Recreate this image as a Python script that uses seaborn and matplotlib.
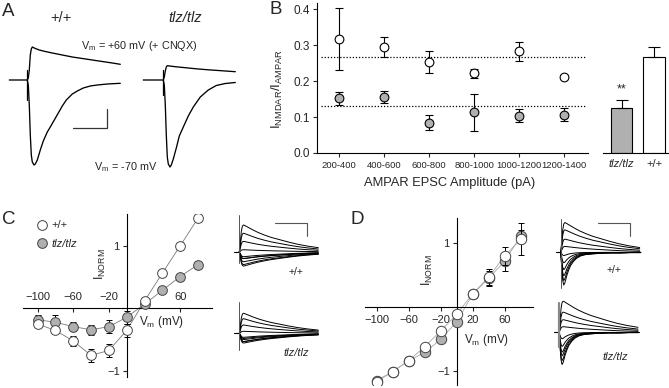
import numpy as np
import matplotlib
matplotlib.use('Agg')
import matplotlib.pyplot as plt
from matplotlib.lines import Line2D
import seaborn as sns

sns.set_style('ticks')
plt.rcParams['font.family'] = ['Liberation Sans', 'DejaVu Sans']
plt.rcParams['mathtext.default'] = 'regular'
plt.rcParams['axes.edgecolor'] = 'black'
plt.rcParams['axes.linewidth'] = 0.8

W, H = 669, 388
GRAY = '#b0b0b0'

# ---------------- panel B: NMDAR/AMPAR ratio vs AMPAR EPSC amplitude
amp_bins = ['200-400', '400-600', '600-800', '800-1000', '1000-1200', '1200-1400']
ratio_wt = [0.318, 0.295, 0.253, 0.222, 0.283, 0.212]
ratio_wt_err = [0.087, 0.028, 0.030, 0.012, 0.026, 0.004]
ratio_tlz = [0.153, 0.157, 0.084, 0.113, 0.104, 0.106]
ratio_tlz_err = [0.018, 0.017, 0.021, 0.051, 0.018, 0.018]
mean_ratio = [0.267, 0.130]
bar_groups = ['tlz/tlz', '+/+']
bar_means = [0.125, 0.267]
bar_err = [0.022, 0.028]

# ---------------- panels C/D: normalized I-V relations
vm = [-100, -80, -60, -40, -20, 0, 20, 40, 60, 80]
nmda_wt = [-0.25, -0.35, -0.52, -0.75, -0.67, -0.35, 0.12, 0.565, 1.0, 1.44]
nmda_wt_err = [0.04, 0.04, 0.08, 0.10, 0.10, 0.10, 0.03, 0.03, 0.03, 0.03]
nmda_tlz = [-0.18, -0.22, -0.29, -0.34, -0.29, -0.14, 0.07, 0.29, 0.51, 0.70]
nmda_tlz_err = [0.07, 0.12, 0.07, 0.08, 0.10, 0.10, 0.02, 0.02, 0.02, 0.02]
ampa_wt = [-1.17, -1.01, -0.84, -0.62, -0.375, -0.115, 0.21, 0.47, 0.80, 1.06]
ampa_wt_err = [0.03, 0.03, 0.03, 0.04, 0.04, 0.04, 0.06, 0.13, 0.14, 0.25]
ampa_tlz = [-1.15, -1.01, -0.84, -0.71, -0.505, -0.23, 0.20, 0.45, 0.72, 1.11]
ampa_tlz_err = [0.03, 0.03, 0.03, 0.04, 0.04, 0.04, 0.05, 0.12, 0.15, 0.10]

# ---------------- panel A: example EPSCs (time, current)
a_wt_neg_t = [-18, 0, 1, 2, 3, 4, 5, 6.7, 8, 10, 13, 16, 20, 23, 27, 31, 35, 39, 45, 50, 56, 63, 70, 80, 93]
a_wt_neg_y = [0, 0, -5, -25, -55, -75, -82, -85, -84, -80, -70, -61, -52, -47, -40, -33, -26, -20, -14, -11, -8, -6, -5, -4, -3.3]
a_wt_pos_t = [0, 1, 2, 3, 4, 5, 6, 8, 12, 18, 25, 35, 45, 55, 65, 75, 85, 93]
a_wt_pos_y = [0, 2, 10, 25, 31, 33, 32.5, 31.5, 30, 28.5, 27, 25, 23, 21.5, 20, 18.5, 17, 15.7]
a_tlz_neg_t = [-20, 0, 1, 2, 3, 4, 5, 6.7, 8, 10, 13, 16, 20, 25, 30, 37, 45, 53, 62, 72]
a_tlz_neg_y = [0, 0, -5, -25, -55, -77, -84, -87, -85, -79, -68, -56, -47, -36, -27, -17, -10, -5.5, -3.5, -2.5]
a_tlz_pos_t = [0, 1, 2, 3, 4, 5, 6, 8, 12, 18, 25, 35, 45, 55, 65, 72]
a_tlz_pos_y = [0, 3, 9, 13, 14.3, 14.3, 14, 13.8, 13.3, 12.7, 12, 11, 10.2, 9.5, 8.8, 8.3]

# normalized waveform shapes
slow_t = [0, 1, 2, 3, 4, 5, 7, 10, 14, 19, 25, 32, 40, 49, 58, 68, 79]
slow_y = [0, 0.35, 0.75, 0.95, 1.0, 0.99, 0.95, 0.89, 0.81, 0.72, 0.63, 0.54, 0.46, 0.37, 0.29, 0.22, 0.16]
fast_t = [0, 1, 2, 3, 4, 5, 6, 8, 10, 13, 16, 20, 25, 32, 40, 50, 60, 70, 80]
fast_y = [0, 0.45, 0.85, 1.0, 0.95, 0.84, 0.72, 0.54, 0.40, 0.27, 0.18, 0.11, 0.07, 0.05, 0.03, 0.02, 0.02, 0.01, 0.01]

fig = plt.figure(figsize=(W / 100, H / 100), dpi=100)


def px_axes(x0, y0, x1, y1):
    return fig.add_axes([x0 / W, 1 - y1 / H, (x1 - x0) / W, (y1 - y0) / H])


# ================= B main
axB = px_axes(317, 3.3, 588, 153)
xpos = np.arange(len(amp_bins))
axB.hlines(mean_ratio, -0.4, 5.47, colors='black', linestyles=(0, (1, 1.5)), lw=0.9)
axB.errorbar(xpos, ratio_wt, yerr=ratio_wt_err, fmt='o', ms=6.3, mfc='white', mec='black',
             mew=0.8, ecolor='black', elinewidth=0.8, capsize=2.9, capthick=0.8, zorder=3)
axB.errorbar(xpos, ratio_tlz, yerr=ratio_tlz_err, fmt='o', ms=6.3, mfc=GRAY, mec='black',
             mew=0.8, ecolor='black', elinewidth=0.8, capsize=2.9, capthick=0.8, zorder=3)
axB.set_xlim(-0.49, 5.53)
axB.set_ylim(0, 0.417)
axB.set_yticks([0, 0.1, 0.2, 0.3, 0.4])
axB.set_yticklabels(['0.0', '0.1', '0.2', '0.3', '0.4'])
axB.set_xticks(xpos, amp_bins)
axB.tick_params(axis='y', labelsize=8.5, length=3, width=0.8, pad=2)
axB.tick_params(axis='x', labelsize=6.8, length=3, width=0.8, pad=3)
sns.despine(ax=axB)
axB.set_xlabel('AMPAR EPSC Amplitude (pA)', fontsize=9.3)
axB.xaxis.set_label_coords(0.49, -0.16)
axB.set_ylabel('I$_{NMDAR}$/I$_{AMPAR}$', fontsize=9.5, va='center')
axB.yaxis.set_label_coords(-0.147, 0.43)

# ================= B bar inset
axBar = px_axes(603, 3.3, 669, 153)
sns.barplot(x=bar_groups, y=bar_means, hue=bar_groups, palette=[GRAY, 'white'], legend=False,
            edgecolor='black', linewidth=0.8, width=0.65, ax=axBar)
axBar.errorbar(bar_groups, bar_means, yerr=[[0, 0], bar_err], fmt='none', ecolor='black',
               elinewidth=0.8, capsize=4.2, capthick=0.8)
axBar.text(0, bar_means[0] + bar_err[0] + 0.012, '**', ha='center', va='bottom', fontsize=9)
axBar.set_xlim(-0.57, 1.46)
axBar.set_ylim(0, 0.417)
axBar.set_yticks([])
axBar.set_ylabel('')
sns.despine(ax=axBar, left=True)
axBar.tick_params(axis='x', length=0, labelsize=8, pad=4)
axBar.get_xticklabels()[0].set_style('italic')


# ================= C and D I-V plots
def iv_axes(box, xlim, ylim):
    ax = px_axes(*box)
    ax.set_xlim(*xlim)
    ax.set_ylim(*ylim)
    for s in ['top', 'right']:
        ax.spines[s].set_visible(False)
    ax.spines['left'].set_position(('data', 0))
    ax.spines['bottom'].set_position(('data', 0))
    ax.set_yticks([-1, 1])
    ax.tick_params(length=3, width=0.8, labelsize=8, pad=2)
    return ax


axC = iv_axes((23, 214, 212, 376.7), (-116.5, 95.8), (-1.09, 1.51))
sns.lineplot(x=vm, y=nmda_wt, color='#7a7a7a', lw=0.6, ax=axC)
sns.lineplot(x=vm, y=nmda_tlz, color='#7a7a7a', lw=0.6, ax=axC)
axC.errorbar(vm, nmda_tlz, yerr=nmda_tlz_err, fmt='o', ms=7, mfc=GRAY, mec='#444444', mew=0.7,
             ecolor='black', elinewidth=0.7, capsize=2, capthick=0.7, zorder=3)
axC.errorbar(vm, nmda_wt, yerr=nmda_wt_err, fmt='o', ms=7, mfc='white', mec='#444444', mew=0.7,
             ecolor='black', elinewidth=0.7, capsize=2, capthick=0.7, zorder=4)
axC.set_xticks([-100, -60, -20, 60])
axC.tick_params(axis='x', pad=-15)
axC.set_xlabel('V$_m$ (mV)', fontsize=8.5, va='center')
axC.xaxis.set_label_coords(0.733, 0.336)
axC.set_ylabel('I$_{NORM}$', fontsize=9, va='center')
axC.yaxis.set_label_coords(0.41, 0.69)
handles = [Line2D([], [], ls='none', marker='o', ms=7, mfc='white', mec='#444444', mew=0.7),
           Line2D([], [], ls='none', marker='o', ms=7, mfc=GRAY, mec='#444444', mew=0.7)]
leg = axC.legend(handles, ['+/+', 'tlz/tlz'], loc='upper left', frameon=False, fontsize=8,
                 handlelength=1.0, handletextpad=0.4, borderpad=0, borderaxespad=0,
                 labelspacing=0.75, bbox_to_anchor=(36.2 / W, 1 - 220.5 / H),
                 bbox_transform=fig.transFigure)
leg.get_texts()[1].set_style('italic')

axD = iv_axes((365, 218.3, 533, 385), (-114.6, 95.4), (-1.22, 1.39))
sns.lineplot(x=vm, y=ampa_wt, color='#a8a8a8', lw=0.6, ax=axD)
sns.lineplot(x=vm, y=ampa_tlz, color='#a8a8a8', lw=0.6, ax=axD)
axD.errorbar(vm, ampa_tlz, yerr=ampa_tlz_err, fmt='o', ms=7.5, mfc=GRAY, mec='#444444', mew=0.7,
             ecolor='black', elinewidth=0.7, capsize=2, capthick=0.7, zorder=3)
axD.errorbar(vm, ampa_wt, yerr=ampa_wt_err, fmt='o', ms=7.5, mfc='white', mec='#444444', mew=0.7,
             ecolor='black', elinewidth=0.7, capsize=2, capthick=0.7, zorder=4)
axD.set_xticks([-100, -60, -20, 20, 60])
axD.tick_params(axis='x', pad=3)
axD.set_xlabel('V$_m$ (mV)', fontsize=8.5, va='center')
axD.xaxis.set_label_coords(0.726, 0.27)
axD.set_ylabel('I$_{NORM}$', fontsize=9, va='center')
axD.yaxis.set_label_coords(0.37, 0.69)

# ================= overlay in pixel units: traces, scale bars, labels
ov = fig.add_axes([0, 0, 1, 1])
ov.patch.set_alpha(0)


def trace(t, y, x0, y0, gain=1.0, lw=0.7, color='black'):
    xs = x0 + np.asarray(t, float)
    ys = y0 - gain * np.asarray(y, float)
    sns.lineplot(x=xs, y=ys, sort=False, estimator=None, color=color, lw=lw, ax=ov)


def family(amps, gain, x0, y0, fast_neg=False):
    for a in amps:
        if fast_neg and a < 0:
            trace(fast_t, np.asarray(fast_y) * a, x0, y0, gain)
        else:
            trace(slow_t, np.asarray(slow_y) * a, x0, y0, gain)


# A traces
trace(a_wt_neg_t, a_wt_neg_y, 27.3, 80, lw=0.95)
trace(a_wt_pos_t, a_wt_pos_y, 27.3, 80, lw=0.95)
ov.plot([27.3, 27.3], [70, 100], color='black', lw=0.9)
trace(a_tlz_neg_t, a_tlz_neg_y, 163.3, 80, lw=0.95)
trace(a_tlz_pos_t, a_tlz_pos_y, 163.3, 80, lw=0.95)
ov.plot([163.3, 163.3], [70, 95], color='black', lw=0.9)
ov.plot([72.7, 107.3, 107.3], [128.3, 128.3, 109.3], color='#333333', lw=0.9)

# C insets
for base in (252, 333.3):
    ov.plot([234, 239.3], [base, base], color='black', lw=0.8)
family(nmda_wt, 18.75, 239.3, 252)
ov.plot([239.3, 239.3], [215, 263], color='#555555', lw=0.7)
family(nmda_tlz, 28.6, 239.3, 333.3)
ov.plot([239.3, 239.3], [301.7, 350], color='#555555', lw=0.7)
ov.plot([275, 307, 307], [222.7, 222.7, 236], color='#555555', lw=0.8)

# D insets
ov.plot([555.5, 560.7], [252.3, 252.3], color='black', lw=0.8)
family(ampa_wt, 28, 560.7, 252.3, fast_neg=True)
ov.plot([560.7, 560.7], [219.3, 288.3], color='#555555', lw=0.7)
ov.plot([554, 559], [332.3, 332.3], color='black', lw=0.8)
family(ampa_tlz, 28, 559, 332.3, fast_neg=True)
ov.plot([559, 559], [303.3, 346.7], color='#888888', lw=1.6)
ov.plot([598, 630, 630], [222.7, 222.7, 236], color='#555555', lw=0.8)

ov.set_xlim(0, W)
ov.set_ylim(H, 0)
ov.axis('off')

# text
ov.text(61, 18, '+/+', fontsize=10.5, ha='center', va='center')
ov.text(185, 18, 'tlz/tlz', fontsize=10.5, ha='center', va='center', style='italic')
ov.text(139.5, 46, 'V$_m$ = +60 mV (+ CNQX)', fontsize=7.8, ha='center', va='center')
ov.text(126, 167, 'V$_m$ = -70 mV', fontsize=7.8, ha='center', va='center')
ov.text(295.5, 271.7, '+/+', fontsize=7.5, ha='center', va='center')
ov.text(296.5, 352.7, 'tlz/tlz', fontsize=8, ha='center', va='center', style='italic')
ov.text(613.5, 270, '+/+', fontsize=7.5, ha='center', va='center')
ov.text(615.5, 356.7, 'tlz/tlz', fontsize=8, ha='center', va='center', style='italic')
for lab, x, y in [('A', 8.5, 11.5), ('B', 275.8, 10), ('C', 8.5, 220), ('D', 357.5, 219.5)]:
    ov.text(x, y, lab, fontsize=13.5, ha='center', va='center')

fig.savefig('out.png', dpi=100)
